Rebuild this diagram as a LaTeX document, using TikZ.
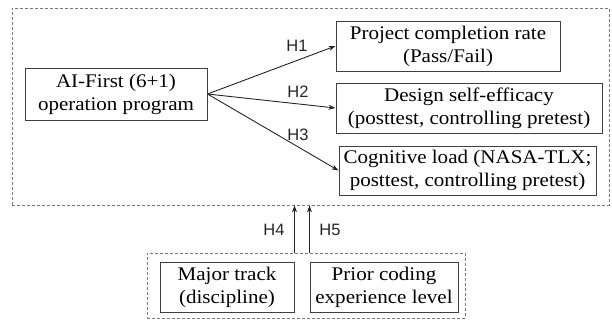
\documentclass[tikz,border=0pt]{standalone}
\usepackage{fontspec}
\setmainfont[FakeStretch=1.09]{Liberation Serif}
\newfontfamily\hfont{Liberation Sans}
\usetikzlibrary{arrows.meta}
\definecolor{boxcol}{HTML}{404040}
\definecolor{dashcol}{HTML}{7A7A7A}
\tikzset{
  box/.style={draw=boxcol, line width=1pt, inner sep=0pt, align=center,
    font=\fontsize{19.3pt}{23pt}\selectfont},
  dbox/.style={draw=dashcol, line width=0.8pt, dash pattern=on 3pt off 2pt, inner sep=0pt},
  arr/.style={draw=black!85, line width=0.9pt, -{Stealth[length=7pt,width=5pt]}},
  hl/.style={font=\hfont\fontsize{16.5pt}{18pt}\selectfont, text=black!85, inner sep=0pt}
}
\begin{document}
\begin{tikzpicture}[x=1pt,y=-1pt]
\useasboundingbox (0,0) rectangle (612,322);
\node[dbox, minimum width=597pt, minimum height=197pt] (outer) at (310.5,106.5) {};
\node[dbox, minimum width=318pt, minimum height=65pt] (grp) at (306,285.5) {};
\node[box, minimum width=182pt, minimum height=52pt] (ai) at (116,94) {AI-First (6+1)\\operation program};
\node[box, minimum width=224pt, minimum height=50pt] (proj) at (448,46) {Project completion rate\\(Pass/Fail)};
\node[box, minimum width=266pt, minimum height=50pt] (des) at (469,108) {Design self-efficacy\\(posttest, controlling pretest)};
\node[box, minimum width=257pt, minimum height=49pt] (cog) at (467.5,170.5) {Cognitive load (NASA-TLX;\\posttest, controlling pretest)};
\node[box, minimum width=134pt, minimum height=50pt] (maj) at (227,287) {Major track\\(discipline)};
\node[box, minimum width=148pt, minimum height=50pt] (pri) at (384,287) {Prior coding\\experience level};
\draw[arr] (ai.east) -- (proj.west);
\draw[arr] (ai.east) -- (des.west);
\draw[arr] (ai.east) -- (cog.west);
\draw[arr] (maj.east |- grp.north) -- (maj.east |- outer.south);
\draw[arr] (pri.west |- grp.north) -- (pri.west |- outer.south);
\node[hl] (h1) at (297,46) {H1};
\node[hl] (h2) at (298,92) {H2};
\node[hl] (h3) at (298,135) {H3};
\node[hl] (h4) at (274,230) {H4};
\node[hl] (h5) at (330,230) {H5};
\end{tikzpicture}
\end{document}
